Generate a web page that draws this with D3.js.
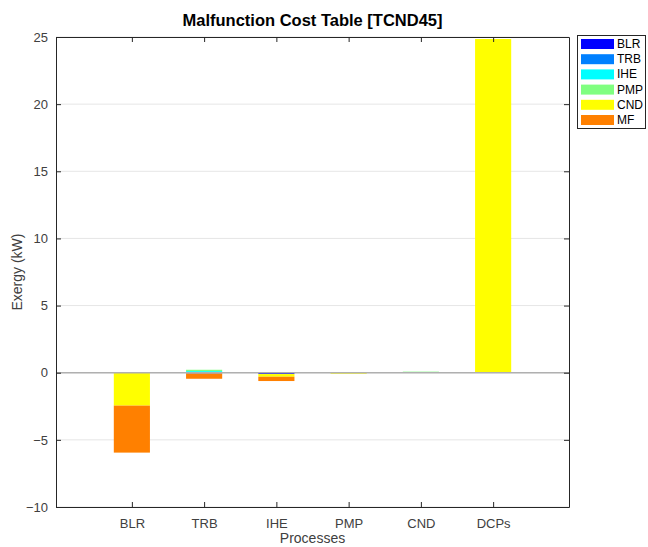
<!DOCTYPE html>
<html><head><meta charset="utf-8">
<script src="https://cdn.jsdelivr.net/npm/d3@7"></script>
<style>body{margin:0;background:#fff;}svg{display:block;font-family:"Liberation Sans",Arial,sans-serif;}</style>
</head><body>
<script>
const categories = ["BLR","TRB","IHE","PMP","CND","DCPs"];
const seriesNames = ["BLR","TRB","IHE","PMP","CND","MF"];
const seriesColors = ["#0000ff","#0080ff","#00ffff","#80ff80","#ffff00","#ff8000"];
// values[series][category]
const valBLR = [0, -0.05, -0.1, 0, 0, 0];
const valTRB = [0, 0, 0, 0, 0, 0];
const valIHE = [0, 0.12, 0, 0, 0, 0];
const valPMP = [0, 0.1, 0, 0, 0.08, 0];
const valCND = [-2.45, 0, -0.2, -0.08, 0, 24.85];
const valMF  = [-3.5, -0.4, -0.32, 0, 0, 0];
const values = [valBLR, valTRB, valIHE, valPMP, valCND, valMF];
const yTicks = [-10,-5,0,5,10,15,20,25];

const W=648,H=547;
const m={l:56,r:569,t:37,b:507};
const svg=d3.select("body").append("svg").attr("width",W).attr("height",H);
const x=d3.scaleLinear().domain([-0.05,7.05]).range([m.l,m.r]);
const y=d3.scaleLinear().domain([-10,25]).range([m.b,m.t]);

// grid
svg.append("g").selectAll("line").data(yTicks).join("line")
 .attr("x1",m.l).attr("x2",m.r).attr("y1",d=>y(d)).attr("y2",d=>y(d))
 .attr("stroke","#e6e6e6").attr("stroke-width",1);

// stacked bars
const bw=x(0.5)-x(0);
const rects=[];
categories.forEach((c,ci)=>{
  let pos=0,neg=0;
  values.forEach((sv,si)=>{
    const v=sv[ci]; if(!v) return;
    let y0,y1;
    if(v>0){y0=pos;y1=pos+v;pos=y1;} else {y0=neg;y1=neg+v;neg=y1;}
    rects.push({ci,si,y0,y1});
  });
});
svg.append("g").selectAll("rect").data(rects).join("rect")
 .attr("x",d=>x(d.ci+1)-bw/2).attr("width",bw)
 .attr("y",d=>y(Math.max(d.y0,d.y1))).attr("height",d=>Math.abs(y(d.y0)-y(d.y1)))
 .attr("fill",d=>seriesColors[d.si]);

// baseline
svg.append("line").attr("x1",m.l).attr("x2",m.r).attr("y1",y(0)).attr("y2",y(0))
 .attr("stroke","#b0b0b0").attr("stroke-width",1.5);

// axes
const ax=d3.axisBottom(x).tickValues(d3.range(1,7)).tickFormat(d=>categories[d-1]).tickSizeInner(-5).tickSizeOuter(0).tickPadding(12);
const gx=svg.append("g").attr("transform",`translate(0,${m.b})`).call(ax);
const axT=d3.axisTop(x).tickValues(d3.range(1,7)).tickFormat("").tickSizeInner(-5).tickSizeOuter(0);
const gxt=svg.append("g").attr("transform",`translate(0,${m.t})`).call(axT);
const ay=d3.axisLeft(y).tickValues(yTicks).tickSizeInner(-5).tickSizeOuter(0).tickPadding(8);
const gy=svg.append("g").attr("transform",`translate(${m.l},0)`).call(ay);
const ayR=d3.axisRight(y).tickValues(yTicks).tickFormat("").tickSizeInner(-5).tickSizeOuter(0);
const gyr=svg.append("g").attr("transform",`translate(${m.r},0)`).call(ayR);
[gx,gxt,gy,gyr].forEach(g=>{
  g.select(".domain").attr("stroke","#262626");
  g.selectAll(".tick line").attr("stroke","#262626");
  g.selectAll("text").attr("fill","#404040").style("font-size","13px").style("font-family","'Liberation Sans',Arial,sans-serif");
});

// title and labels
svg.append("text").attr("x",(m.l+m.r)/2).attr("y",26).attr("text-anchor","middle")
 .style("font-size","16.5px").style("font-weight","bold").attr("fill","#000").text("Malfunction Cost Table [TCND45]");
svg.append("text").attr("x",(m.l+m.r)/2).attr("y",543).attr("text-anchor","middle")
 .style("font-size","14px").attr("fill","#404040").text("Processes");
svg.append("text").attr("transform",`translate(22,${(m.t+m.b)/2}) rotate(-90)`).attr("text-anchor","middle")
 .style("font-size","14px").attr("fill","#404040").text("Exergy (kW)");

// legend
const lg=svg.append("g");
lg.append("rect").attr("x",577.5).attr("y",35.5).attr("width",68).attr("height",93)
 .attr("fill","#fff").attr("stroke","#262626").attr("stroke-width",1);
seriesNames.forEach((n,i)=>{
  const yy=44+i*15.2;
  lg.append("rect").attr("x",581).attr("y",yy-5).attr("width",33).attr("height",10).attr("fill",seriesColors[i]);
  lg.append("text").attr("x",617).attr("y",yy+4).style("font-size","12px").attr("fill","#000").text(n);
});
</script>
</body></html>
